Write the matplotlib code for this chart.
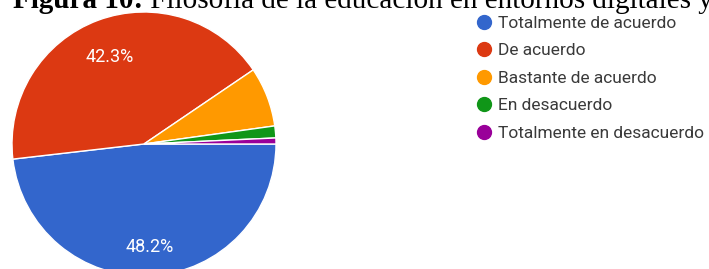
import matplotlib
matplotlib.use("Agg")
import matplotlib.pyplot as plt
from matplotlib.lines import Line2D

categories = ["Totalmente de acuerdo", "De acuerdo", "Bastante de acuerdo",
              "En desacuerdo", "Totalmente en desacuerdo"]
counts = [66, 58, 10, 2, 1]
colors = ["#3366CC", "#DC3912", "#FF9900", "#109618", "#990099"]
title_bold = "Figura 10:"
title_rest = " Filosofía de la educación en entornos digitales y"

W, H = 709, 269
fig = plt.figure(figsize=(W / 100, H / 100), dpi=100)
ax = fig.add_axes([0, 0, 1, 1])
ax.set_xlim(0, W)
ax.set_ylim(0, H)
ax.set_aspect("equal")
ax.axis("off")

def fmt(p):
    return f"{p:.1f}%" if p >= 10 else ""

wedges, texts, autotexts = ax.pie(
    counts, colors=colors, startangle=0, counterclock=False,
    center=(144, H - 144), radius=132, autopct=fmt, pctdistance=0.74,
    wedgeprops=dict(edgecolor="white", linewidth=1.0),
    textprops=dict(color="white", fontsize=13, family="Roboto"),
)
for at in autotexts:
    x, y = at.get_position()
    at.set_position((x, y - 5))
ax.set_xlim(0, W)
ax.set_ylim(0, H)

handles = [Line2D([], [], marker="o", linestyle="none", markersize=10,
                  markerfacecolor=c, markeredgecolor=c) for c in colors]
leg = ax.legend(handles, categories, loc="upper left",
                bbox_to_anchor=(467 / W, 1 - 7 / H), frameon=False,
                handletextpad=0.3, labelspacing=0.71, borderpad=0,
                prop=dict(family="Roboto", size=12.5), handlelength=1.0)
for t in leg.get_texts():
    t.set_color("#3a3a3a")

t1 = fig.text(13 / W, 1 - 8 / H, title_bold, fontsize=21, fontweight="bold",
              family="Liberation Serif", va="baseline", ha="left")
fig.canvas.draw()
bb = t1.get_window_extent()
fig.text(bb.x1 / W, 1 - 8 / H, title_rest, fontsize=21,
         family="Liberation Serif", va="baseline", ha="left")

fig.savefig("out.png", dpi=100)
